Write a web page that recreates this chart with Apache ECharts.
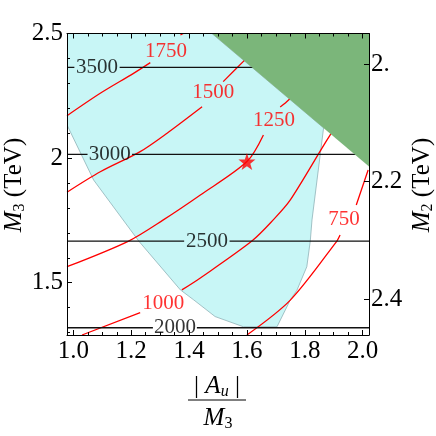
<!DOCTYPE html>
<html><head><meta charset="utf-8">
<script src="https://cdn.jsdelivr.net/npm/echarts@6/dist/echarts.min.js"></script>
<style>html,body{margin:0;padding:0;background:#fff}#c{width:436px;height:436px}</style>
</head><body><div id="c"></div>
<script>
// ---- axes ----
const xRange = [0.978, 2.022];
const yRange = [1.29, 2.5];
const m2Range = [1.9476, 2.4613];
const xTickValues = [1.0, 1.2, 1.4, 1.6, 1.8, 2.0];
const xTickLabels = ['1.0', '1.2', '1.4', '1.6', '1.8', '2.0'];
const xMinorTicks = [1.05, 1.1, 1.15, 1.25, 1.3, 1.35, 1.45, 1.5, 1.55, 1.65, 1.7, 1.75, 1.85, 1.9, 1.95];
const yTickValues = [1.5, 2.0, 2.5];
const yTickLabels = ['1.5', '2', '2.5'];
const yMinorTicks = [1.3, 1.4, 1.6, 1.7, 1.8, 1.9, 2.1, 2.2, 2.3, 2.4];
const m2TickValues = [2.0, 2.2, 2.4];
const m2TickLabels = ['2.', '2.2', '2.4'];

// ---- black contours (horizontal) ----
const blackLevels = ['2000', '2500', '3000', '3500'];
const blackY = [1.319, 1.667, 2.015, 2.364];
const blackGapStart = [1.275, 1.383, 1.049, 1.0035];
const blackGapEnd = [1.427, 1.540, 1.203, 1.160];
const blackLabelX = [1.351, 1.462, 1.126, 1.082];

// ---- red contours (null = gap for label) ----
const red1750X = [0.978, 1.093, 1.208, 1.266, null, 1.370, 1.380];
const red1750Y = [2.170, 2.260, 2.340, 2.383, null, 2.494, 2.5];
const red1500X = [0.978, 1.093, 1.231, 1.324, 1.445, null, 1.518, 1.587, 1.629];
const red1500Y = [1.863, 1.945, 2.026, 2.100, 2.206, null, 2.307, 2.387, 2.434];
const red1250X = [0.978, 1.191, 1.311, 1.439, 1.600, 1.657, null, 1.715, 1.744, 1.777];
const red1250Y = [1.564, 1.667, 1.752, 1.852, 1.986, 2.093, null, 2.205, 2.233, 2.281];
const red1000X = [1.030, 1.231, null, 1.375, 1.439, 1.617, 1.691, 1.750, 1.888, 1.940];
const red1000Y = [1.290, 1.380, null, 1.471, 1.519, 1.667, 1.752, 1.832, 2.093, 2.173];
const red750X = [1.600, 1.750, 1.911, 1.922, null, 1.978, 2.019];
const red750Y = [1.290, 1.430, 1.667, 1.691, null, 1.812, 1.952];
const redLevels = ['1750', '1500', '1250', '1000', '750'];
const redLabelX = [1.320, 1.484, 1.694, 1.311, 1.936];
const redLabelY = [2.427, 2.265, 2.149, 1.415, 1.755];

// ---- regions ----
const cyanX = [0.978, 1.479, 1.865, 1.825, 1.819, 1.807, 1.773, 1.750, 1.704, 1.588, 1.490, 1.416, 1.370, 1.226, 1.070, 0.978];
const cyanY = [2.5, 2.5, 2.121, 1.752, 1.667, 1.564, 1.470, 1.431, 1.323, 1.323, 1.364, 1.431, 1.471, 1.667, 1.912, 2.133];
const greenX = [1.479, 2.022, 2.022];
const greenY = [2.5, 2.5, 1.966];

// ---- benchmark point ----
const starX = [1.600];
const starY = [1.986];

const FONT = '"Liberation Serif", "Times New Roman", "DejaVu Serif", serif';
const zip = (xs, ys) => xs.map((x, i) => (x === null ? null : [x, ys[i]]));

function polygonSeries(xs, ys, fill, stroke, z) {
  return {
    type: 'custom', xAxisIndex: 0, yAxisIndex: 0, z: z, clip: true, silent: true,
    data: zip(xs, ys),
    renderItem: function (params, api) {
      if (params.dataIndex !== 0) return null;
      const pts = xs.map((x, i) => api.coord([x, ys[i]]));
      return { type: 'polygon', shape: { points: pts },
        style: { fill: fill, stroke: stroke, lineWidth: stroke === 'none' ? 0 : 0.8 } };
    }
  };
}

const redSets = [[red1750X, red1750Y], [red1500X, red1500Y], [red1250X, red1250Y], [red1000X, red1000Y], [red750X, red750Y]];
const series = [];
series.push(polygonSeries(cyanX, cyanY, '#c8f6f6', '#8fb3b8', 1));
redSets.forEach(function (s) {
  series.push({ type: 'line', xAxisIndex: 0, yAxisIndex: 0, z: 3, data: zip(s[0], s[1]),
    showSymbol: false, symbol: 'none', smooth: 0.3, connectNulls: false, silent: true,
    lineStyle: { color: '#ff0000', width: 1.3 } });
});
blackY.forEach(function (y, i) {
  series.push({ type: 'line', xAxisIndex: 0, yAxisIndex: 0, z: 3,
    data: [[xRange[0], y], [blackGapStart[i], y], null, [blackGapEnd[i], y], [xRange[1], y]],
    showSymbol: false, symbol: 'none', connectNulls: false, silent: true,
    lineStyle: { color: '#111', width: 1.3 } });
});
series.push({ type: 'scatter', xAxisIndex: 0, yAxisIndex: 0, z: 4, symbolSize: 0, silent: true,
  data: blackLevels.map((t, i) => ({ name: t, value: [blackLabelX[i], blackY[i]] })),
  label: { show: true, position: 'inside', formatter: '{b}', color: '#000', fontSize: 21, fontFamily: FONT } });
series.push({ type: 'scatter', xAxisIndex: 0, yAxisIndex: 0, z: 4, symbolSize: 0, silent: true,
  data: redLevels.map((t, i) => ({ name: t, value: [redLabelX[i], redLabelY[i]] })),
  label: { show: true, position: 'inside', formatter: '{b}', color: '#ff0000', fontSize: 21, fontFamily: FONT } });
series.push({ type: 'scatter', xAxisIndex: 0, yAxisIndex: 0, z: 5, silent: true,
  symbol: 'path://M0,-10 L2.35,-3.24 L9.51,-3.09 L3.8,1.24 L5.88,8.09 L0,4 L-5.88,8.09 L-3.8,1.24 L-9.51,-3.09 L-2.35,-3.24 Z',
  symbolSize: 17, itemStyle: { color: '#ff0000' }, data: zip(starX, starY) });
series.push(polygonSeries(greenX, greenY, '#7bb67a', 'none', 6));

const tickStyle = { color: '#000', width: 1 };
function xAx(pos, values, len, showLine, showLabel) {
  return { type: 'value', position: pos, min: xRange[0], max: xRange[1], z: 10,
    axisLine: { show: showLine, onZero: false, lineStyle: { color: '#000', width: 1 } },
    axisTick: { show: true, inside: true, length: len, customValues: values, lineStyle: tickStyle },
    axisLabel: { show: showLabel, customValues: values, margin: 4, color: '#000', fontSize: 25, fontFamily: FONT,
      formatter: function (v) { const i = xTickValues.findIndex(t => Math.abs(t - v) < 1e-6); return i >= 0 ? xTickLabels[i] : ''; } },
    splitLine: { show: false } };
}
function yAx(pos, values, len, showLine, showLabel) {
  return { type: 'value', position: pos, min: yRange[0], max: yRange[1], z: 10,
    axisLine: { show: showLine, onZero: false, lineStyle: { color: '#000', width: 1 } },
    axisTick: { show: true, inside: true, length: len, customValues: values, lineStyle: tickStyle },
    axisLabel: { show: showLabel, customValues: values, margin: 4, color: '#000', fontSize: 25, fontFamily: FONT,
      formatter: function (v) { const i = yTickValues.findIndex(t => Math.abs(t - v) < 1e-6); return i >= 0 ? yTickLabels[i] : ''; } },
    splitLine: { show: false } };
}

const rich = {
  m: { fontSize: 25, fontStyle: 'italic', fontFamily: FONT, lineHeight: 26, verticalAlign: 'middle' },
  s: { fontSize: 16, fontFamily: FONT, lineHeight: 26, verticalAlign: 'middle', padding: [12, 0, 0, 0] },
  si: { fontSize: 16, fontStyle: 'italic', fontFamily: FONT, lineHeight: 26, verticalAlign: 'middle', padding: [12, 0, 0, 0] },
  t: { fontSize: 25, fontFamily: FONT, lineHeight: 26, verticalAlign: 'middle' }
};

const option = {
  animation: false,
  backgroundColor: '#fff',
  grid: { left: 67, top: 33.5, width: 302, height: 301.5, containLabel: false, outerBoundsMode: 'none' },
  xAxis: [
    xAx('bottom', xTickValues, 5, true, true),
    xAx('bottom', xMinorTicks, 3, false, false),
    xAx('top', xTickValues, 5, true, false),
    xAx('top', xMinorTicks, 3, false, false)
  ],
  yAxis: [
    yAx('left', yTickValues, 5, true, true),
    yAx('left', yMinorTicks, 3, false, false),
    { type: 'value', position: 'right', inverse: true, min: m2Range[0], max: m2Range[1], z: 10,
      axisLine: { show: true, onZero: false, lineStyle: { color: '#000', width: 1 } },
      axisTick: { show: true, inside: true, length: 5, customValues: m2TickValues, lineStyle: tickStyle },
      axisLabel: { customValues: m2TickValues, margin: 2, color: '#000', fontSize: 25, fontFamily: FONT,
        formatter: function (v) { const i = m2TickValues.findIndex(t => Math.abs(t - v) < 1e-6); return i >= 0 ? m2TickLabels[i] : ''; } },
      splitLine: { show: false } }
  ],
  series: series,
  graphic: [
    { type: 'text', x: 14, y: 185, rotation: Math.PI / 2, silent: true,
      style: { text: '{m|M}{s|3}{t| (TeV)}', rich: rich, align: 'center', verticalAlign: 'middle', fill: '#000' } },
    { type: 'text', x: 422, y: 185, rotation: Math.PI / 2, silent: true,
      style: { text: '{m|M}{s|2}{t| (TeV)}', rich: rich, align: 'center', verticalAlign: 'middle', fill: '#000' } },
    { type: 'text', x: 217, y: 386, silent: true,
      style: { text: '{t|| }{m|A}{si|u}{t| |}', rich: rich, align: 'center', verticalAlign: 'middle', fill: '#000' } },
    { type: 'line', silent: true, shape: { x1: 188, y1: 400, x2: 246, y2: 400 }, style: { stroke: '#000', lineWidth: 1 } },
    { type: 'text', x: 218, y: 418, silent: true,
      style: { text: '{m|M}{s|3}', rich: rich, align: 'center', verticalAlign: 'middle', fill: '#000' } }
  ]
};
echarts.init(document.getElementById('c')).setOption(option);
</script></body></html>
